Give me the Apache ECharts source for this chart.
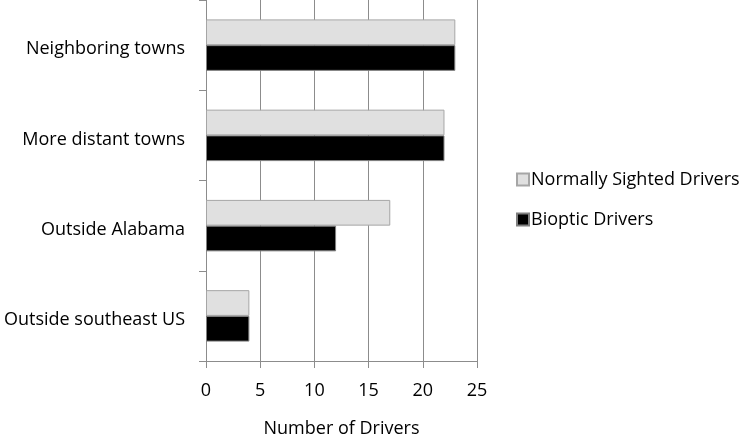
<!DOCTYPE html>
<html><head><meta charset="utf-8">
<script src="https://cdn.jsdelivr.net/npm/echarts@6/dist/echarts.min.js"></script>
<style>html,body{margin:0;padding:0;background:#fff}#c{width:744px;height:435px}</style>
</head><body><div id="c"></div>
<script>
var categories = ["Neighboring towns", "More distant towns", "Outside Alabama", "Outside southeast US"];
var normalValues = [23, 22, 17, 4];
var biopticValues = [23, 22, 12, 4];
var xTicks = [0, 5, 10, 15, 20, 25];
var seriesNames = ["Normally Sighted Drivers", "Bioptic Drivers"];

var font = "'Open Sans', sans-serif";
var chart = echarts.init(document.getElementById('c'));
chart.setOption({
  animation: false,
  grid: {left: 206, right: 267, top: 0, bottom: 74, containLabel: false, outerBoundsMode: 'none'},
  legend: {
    orient: 'vertical', left: 511, top: 162, itemWidth: 12, itemHeight: 12, itemGap: 15,
    data: seriesNames,
    textStyle: {fontFamily: font, fontSize: 18, color: '#000', padding: [0,0,0,-3], lineHeight: 25},
    icon: 'rect'
  },
  xAxis: {
    type: 'value', min: xTicks[0], max: xTicks[xTicks.length-1], interval: 5,
    name: 'Number of Drivers', nameLocation: 'middle', nameGap: 59,
    nameTextStyle: {fontFamily: font, fontSize: 18, color: '#000'},
    axisLine: {show: true, lineStyle: {color: '#8c8c8c'}},
    axisTick: {show: true, length: 7, lineStyle: {color: '#8c8c8c'}},
    axisLabel: {fontFamily: font, fontSize: 18, color: '#000', margin: 21},
    splitLine: {show: true, lineStyle: {color: '#8c8c8c'}}
  },
  yAxis: {
    type: 'category', data: categories, inverse: true,
    axisLine: {show: true, lineStyle: {color: '#8c8c8c'}},
    axisTick: {show: true, length: 7, lineStyle: {color: '#8c8c8c'}},
    axisLabel: {fontFamily: font, fontSize: 18, color: '#000', margin: 21, verticalAlign: 'top', lineHeight: 8},
    splitLine: {show: false}
  },
  series: [
    {name: seriesNames[0], type: 'bar', data: normalValues, barGap: '0%', barCategoryGap: '43%',
     itemStyle: {color: '#e0e0e0', borderColor: '#a6a6a6', borderWidth: 1}},
    {name: seriesNames[1], type: 'bar', data: biopticValues, barGap: '0%', barCategoryGap: '43%',
     itemStyle: {color: '#000', borderColor: '#7f7f7f', borderWidth: 1}}
  ]
});
</script></body></html>
